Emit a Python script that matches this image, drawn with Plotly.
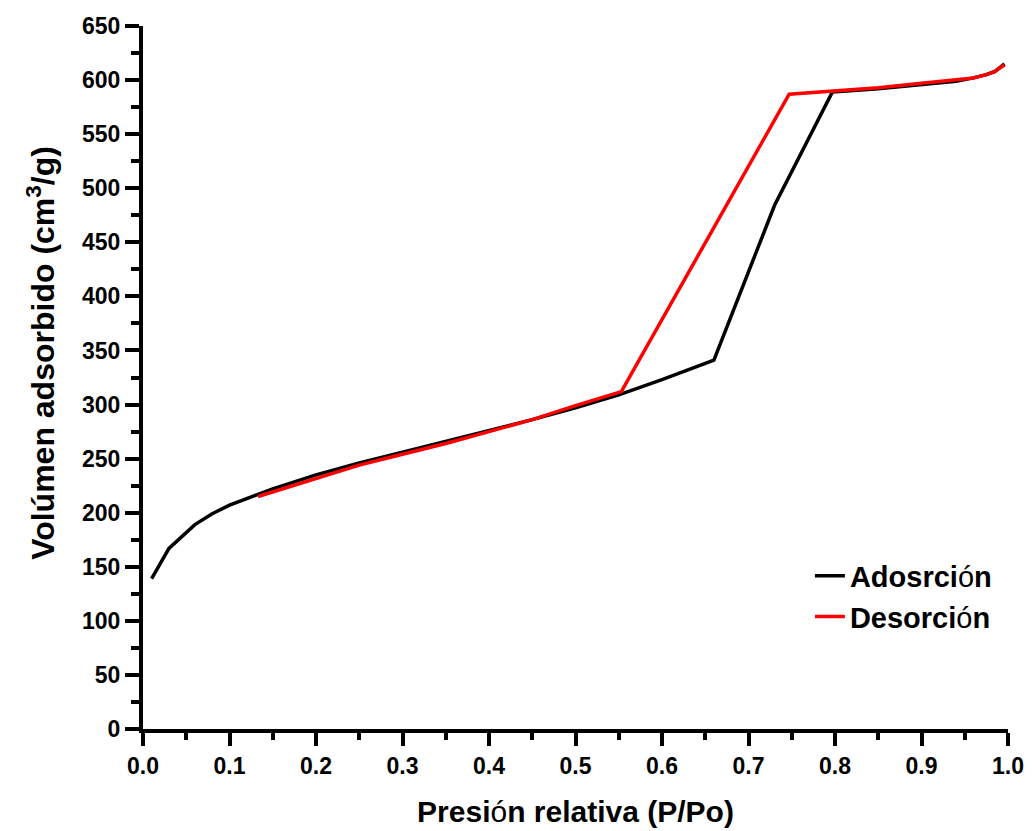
import plotly.graph_objects as go

# Adsorption branch
ads_x = [0.01, 0.03, 0.06, 0.08, 0.10, 0.13, 0.15, 0.20, 0.25, 0.30, 0.35, 0.40, 0.45,
         0.50, 0.55, 0.60, 0.66, 0.73, 0.797, 0.85, 0.90, 0.94, 0.96, 0.975, 0.985, 0.99, 0.996]
ads_y = [139, 167, 189, 199, 207, 216, 222, 235, 246, 256, 266, 276, 286,
         297, 309, 323, 341, 484, 589, 592, 596, 599, 602, 605, 608, 611, 615]

# Desorption branch
des_x = [0.133, 0.20, 0.25, 0.30, 0.35, 0.40, 0.45, 0.50, 0.553, 0.747, 0.80, 0.85,
         0.90, 0.94, 0.96, 0.975, 0.985, 0.99, 0.996]
des_y = [215, 232, 244, 254, 264, 275, 286, 299, 312, 587, 590, 593,
         597, 600, 602, 605, 608, 611, 614]

x_ticks = [0.0, 0.1, 0.2, 0.3, 0.4, 0.5, 0.6, 0.7, 0.8, 0.9, 1.0]
y_ticks = list(range(0, 651, 50))

FONT = "Liberation Sans, Arial, sans-serif"

fig = go.Figure()
fig.add_trace(go.Scatter(x=ads_x, y=ads_y, mode="lines",
                         name="Adosrci<span style='font-weight:normal'>ó</span>n",
                         line=dict(color="black", width=3.5)))
fig.add_trace(go.Scatter(x=des_x, y=des_y, mode="lines",
                         name="Desorci<span style='font-weight:normal'>ó</span>n",
                         line=dict(color="#ff0000", width=3.5)))

axis_common = dict(showgrid=False, zeroline=False, showline=True, linecolor="black", linewidth=4,
                   ticks="outside", tickcolor="black", tickwidth=4, automargin=False,
                   tickfont=dict(family=FONT, size=23, color="black", weight="bold"))

fig.update_xaxes(range=[0, 1.0], tickvals=x_ticks, ticktext=[f"{v:.1f}" for v in x_ticks], ticklen=13,
                 minor=dict(dtick=0.05, ticks="outside", ticklen=7, tickwidth=4, tickcolor="black"),
                 title=dict(text="Presi<span style='font-weight:normal'>ó</span>n relativa (P/Po)",
                            font=dict(family=FONT, size=30, color="black", weight="bold"), standoff=24),
                 **axis_common)
fig.update_yaxes(range=[0, 650], tickvals=y_ticks, ticklen=14,
                 minor=dict(dtick=25, ticks="outside", ticklen=8, tickwidth=4, tickcolor="black"),
                 **axis_common)

fig.add_annotation(text="Volúmen adsorbido (cm<sup>3</sup>/g)", textangle=-90,
                   xref="paper", yref="paper", x=-0.118, y=0.535, xanchor="center", yanchor="middle",
                   showarrow=False, font=dict(family=FONT, size=32, color="black", weight="bold"))

fig.update_layout(
    width=1032, height=831,
    margin=dict(l=143, r=24, t=26, b=102, autoexpand=False),
    plot_bgcolor="white", paper_bgcolor="white",
    showlegend=True,
    legend=dict(x=0.771, y=0.254, xanchor="left", yanchor="top", bgcolor="rgba(0,0,0,0)",
                font=dict(family=FONT, size=29, color="black", weight="bold"), tracegroupgap=0),
)

fig.write_html("out.html")
